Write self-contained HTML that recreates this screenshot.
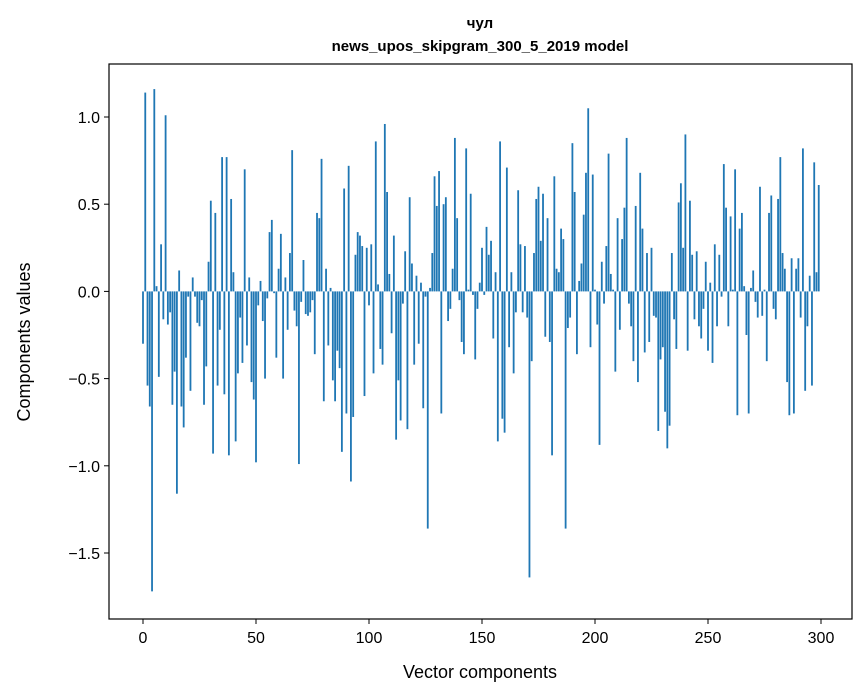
<!DOCTYPE html>
<html><head><meta charset="utf-8"><style>
html,body{margin:0;padding:0;background:#fff;}
svg{display:block;font-family:"Liberation Sans","DejaVu Sans",sans-serif;}
</style></head><body>
<svg id="chart" width="867" height="696" viewBox="0 0 867 696" xmlns="http://www.w3.org/2000/svg">
<rect width="867" height="696" fill="#fff"/>
<text x="480" y="28" text-anchor="middle" font-size="15" font-weight="bold" font-family="Liberation Sans, DejaVu Sans, sans-serif">чул</text>
<text x="480" y="51" text-anchor="middle" font-size="15" font-weight="bold">news_upos_skipgram_300_5_2019 model</text>
<g id="bars"></g>
<g id="axes"></g>
<text x="480" y="678" text-anchor="middle" font-size="18">Vector components</text>
<text transform="translate(30,342) rotate(-90)" text-anchor="middle" font-size="18">Components values</text>
</svg>
<script>
const values = [
-0.30,1.14,-0.54,-0.66,-1.72,1.16,0.03,-0.49,0.27,-0.16,
1.01,-0.19,-0.12,-0.65,-0.46,-1.16,0.12,-0.66,-0.78,-0.38,
-0.03,-0.57,0.08,-0.03,-0.18,-0.20,-0.05,-0.65,-0.43,0.17,
0.52,-0.93,0.45,-0.54,-0.22,0.77,-0.59,0.77,-0.94,0.53,
0.11,-0.86,-0.47,-0.15,-0.41,0.70,-0.31,0.08,-0.52,-0.62,
-0.98,-0.08,0.06,-0.17,-0.50,-0.04,0.34,0.41,-0.01,-0.38,
0.13,0.33,-0.50,0.08,-0.22,0.22,0.81,-0.11,-0.20,-0.99,
-0.06,0.18,-0.13,-0.14,-0.12,-0.05,-0.36,0.45,0.42,0.76,
-0.63,0.13,-0.31,0.02,-0.51,-0.63,-0.34,-0.44,-0.92,0.59,
-0.70,0.72,-1.09,-0.72,0.21,0.34,0.32,0.26,-0.60,0.25,
-0.08,0.27,-0.47,0.86,0.04,-0.33,-0.42,0.96,0.57,0.10,
-0.24,0.32,-0.85,-0.51,-0.74,-0.07,0.23,-0.79,0.54,0.16,
-0.42,0.09,-0.30,0.05,-0.67,-0.03,-1.36,0.02,0.22,0.66,
0.49,0.69,-0.70,0.50,0.54,-0.17,-0.10,0.13,0.88,0.42,
-0.05,-0.29,-0.36,0.82,0.01,0.56,-0.02,-0.39,-0.10,0.05,
0.25,-0.02,0.37,0.21,0.29,-0.27,0.11,-0.86,0.86,-0.73,
-0.81,0.71,-0.32,0.11,-0.47,-0.12,0.58,0.27,-0.12,0.26,
-0.15,-1.64,-0.40,0.22,0.53,0.60,0.29,0.56,-0.26,0.42,
-0.29,-0.94,0.66,0.13,0.11,0.36,0.30,-1.36,-0.21,-0.15,
0.85,0.57,-0.36,0.06,0.16,0.44,0.68,1.05,-0.32,0.67,
0.01,-0.19,-0.88,0.17,-0.07,0.26,0.79,0.10,0.01,-0.46,
0.42,-0.22,0.30,0.48,0.88,-0.07,-0.20,-0.40,0.49,-0.52,
0.68,0.36,-0.35,0.22,-0.29,0.25,-0.14,-0.15,-0.80,-0.39,
-0.32,-0.69,-0.90,-0.77,0.22,-0.16,-0.33,0.51,0.62,0.25,
0.90,-0.34,0.52,0.21,-0.16,0.23,-0.20,-0.27,-0.10,0.17,
-0.34,0.05,-0.41,0.27,-0.20,0.21,-0.03,0.73,0.48,-0.20,
0.43,0.01,0.70,-0.71,0.36,0.45,0.03,-0.25,-0.70,0.02,
0.12,-0.06,-0.15,0.60,-0.14,0.01,-0.40,0.45,0.55,-0.10,
-0.16,0.53,0.77,0.22,0.13,-0.52,-0.71,0.19,-0.70,0.13,
0.19,-0.15,0.82,-0.57,-0.20,0.09,-0.54,0.74,0.11,0.61
];
const xTicks = [0,50,100,150,200,250,300];
const yTicks = [-1.5,-1.0,-0.5,0.0,0.5,1.0];
const yTickLabels = ["\u22121.5","\u22121.0","\u22120.5","0.0","0.5","1.0"];

const L=109, R=852, T=64, B=619;
function xs(v){ return 143 + v*(821-143)/300; }
function ys(v){ return 291.4 - v*174.4; }
const NS="http://www.w3.org/2000/svg";
const bars=document.getElementById('bars');
const bw=0.8*(821-143)/300;
values.forEach((v,i)=>{
  const r=document.createElementNS(NS,'rect');
  const y0=ys(0), y1=ys(v);
  r.setAttribute('x', xs(i)-bw/2);
  r.setAttribute('y', Math.min(y0,y1));
  r.setAttribute('width', bw);
  r.setAttribute('height', Math.max(Math.abs(y1-y0),0.3));
  r.setAttribute('fill','#1f77b4');
  
  
  bars.appendChild(r);
});
const ax=document.getElementById('axes');
const frame=document.createElementNS(NS,'rect');
frame.setAttribute('x',L);frame.setAttribute('y',T);
frame.setAttribute('width',R-L);frame.setAttribute('height',B-T);
frame.setAttribute('fill','none');frame.setAttribute('stroke','#000');frame.setAttribute('stroke-width','1.2');


ax.appendChild(frame);
xTicks.forEach(t=>{
  const l=document.createElementNS(NS,'line');
  l.setAttribute('x1',xs(t));l.setAttribute('x2',xs(t));l.setAttribute('y1',B);l.setAttribute('y2',B+5);
  l.setAttribute('stroke','#000');
  
  
  ax.appendChild(l);
  const tx=document.createElementNS(NS,'text');
  tx.setAttribute('x',xs(t));tx.setAttribute('y',B+24);tx.setAttribute('text-anchor','middle');tx.setAttribute('font-size','16');
  tx.textContent=t;
  
  
  ax.appendChild(tx);
});
yTicks.forEach((t,i)=>{
  const l=document.createElementNS(NS,'line');
  l.setAttribute('x1',L-5);l.setAttribute('x2',L);l.setAttribute('y1',ys(t));l.setAttribute('y2',ys(t));
  l.setAttribute('stroke','#000');
  
  
  ax.appendChild(l);
  const tx=document.createElementNS(NS,'text');
  tx.setAttribute('x',L-9);tx.setAttribute('y',ys(t)+6);tx.setAttribute('text-anchor','end');tx.setAttribute('font-size','16');
  tx.textContent=yTickLabels[i];
  
  
  ax.appendChild(tx);
});
</script>
</body></html>
